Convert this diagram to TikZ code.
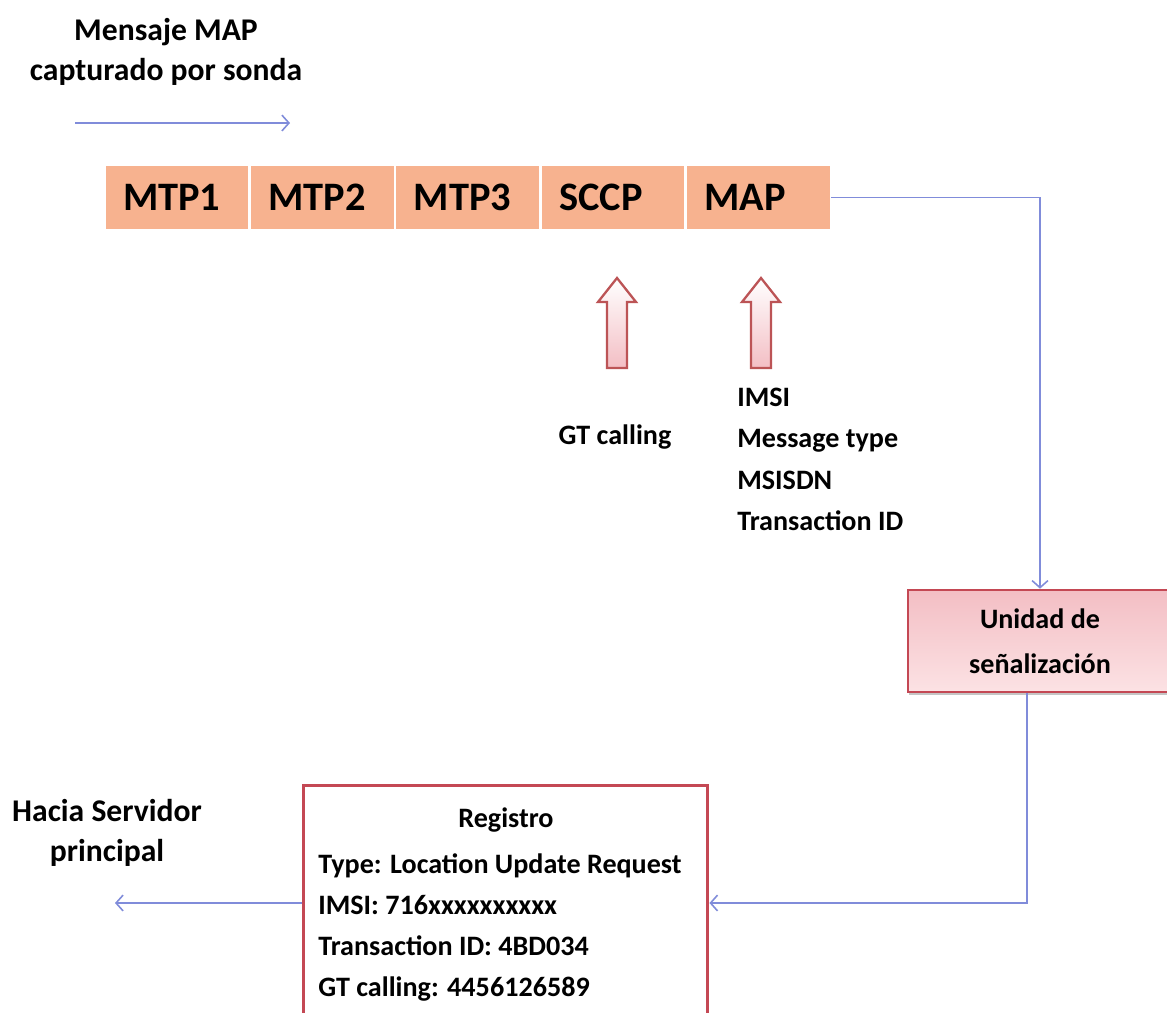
\documentclass[tikz,border=0pt]{standalone}
\usepackage{fontspec}
\setmainfont{Carlito}
\usetikzlibrary{positioning,calc,arrows.meta,shadows}

\definecolor{salmon}{RGB}{247,178,143}
\definecolor{linkblue}{RGB}{128,140,218}
\definecolor{boxred}{RGB}{196,72,84}
\definecolor{arrowred}{RGB}{188,84,86}
\definecolor{softpink}{RGB}{243,190,196}
\definecolor{palepink}{RGB}{252,226,228}

\tikzset{
  cell/.style={rectangle, fill=salmon, draw=white, line width=0.8pt,
    minimum height=1.3cm, text width=2.16cm, inner xsep=0.36cm, align=left,
    font=\fontsize{23}{27}\selectfont\bfseries},
  txt/.style={font=\fontsize{16}{23.4}\selectfont\bfseries, align=left, inner sep=0pt},
  bigtxt/.style={font=\fontsize{18}{23}\selectfont\bfseries, align=center, inner sep=0pt},
  link/.style={draw=linkblue, line width=0.9pt, -{Straight Barb[length=4pt,width=9pt]}},
  uparrow/.style={draw=arrowred, line width=1.3pt, top color=white, bottom color=softpink},
  unitbox/.style={rectangle, draw=boxred, line width=1.5pt, top color=softpink,
    bottom color=palepink, minimum width=5.28cm, minimum height=2.04cm,
    font=\fontsize{16}{25.5}\selectfont\bfseries, align=center,
    drop shadow={shadow xshift=0.6pt, shadow yshift=-1.6pt, opacity=0.45}},
  regbox/.style={rectangle, draw=boxred, line width=1.7pt, fill=white,
    minimum width=8.1cm, minimum height=4.72cm}
}

\begin{document}
\begin{tikzpicture}[x=0.02cm,y=-0.02cm]
  \clip (0,0) rectangle (1167,1012);
  \fill[white] (0,0) rectangle (1167,1012);

  \node[bigtxt] (capt) at (166,52) {Mensaje MAP\\capturado por sonda};
  \coordinate (capA) at (75,123);
  \coordinate (capB) at (290,123);
  \draw[link] (capA) -- (capB);

  \node[cell] (mtp1) at (177,197.5) {MTP1};
  \node[cell, right=0pt of mtp1] (mtp2) {MTP2};
  \node[cell, right=0pt of mtp2] (mtp3) {MTP3};
  \node[cell, right=0pt of mtp3] (sccp) {SCCP};
  \node[cell, right=0pt of sccp] (map) {MAP};

  \foreach \cx in {617,761}
    \draw[uparrow] (\cx-10,368) -- (\cx-10,302) -- (\cx-19,302) -- (\cx,278)
      -- (\cx+19,302) -- (\cx+10,302) -- (\cx+10,368) -- cycle;

  \node[txt] (gtc) at (615,437) {GT calling};
  \node[txt, anchor=north west] (fields) at (737,388)
    {IMSI\\Message type\\MSISDN\\Transaction ID};

  \node[unitbox] (unid) at (1040,641) {Unidad de\\señalización};
  \draw[link] (map.east) -| (unid.north);

  \node[regbox] (reg) at (505.5,903) {};
  \node[txt] (regtit) at (506,820) {Registro};
  \node[txt, anchor=north west] (regdat) at (318,853)
    {Type: Location Update Request\\IMSI: 716xxxxxxxxxx\\Transaction ID: 4BD034\\GT calling: 4456126589};
  \draw[link] ($(unid.south)+(-13,0)$) |- (reg.east);

  \node[bigtxt] (srv) at (107,833) {Hacia Servidor\\principal};
  \coordinate (srvend) at (115,903);
  \draw[link] (reg.west) -- (srvend);
\end{tikzpicture}
\end{document}
